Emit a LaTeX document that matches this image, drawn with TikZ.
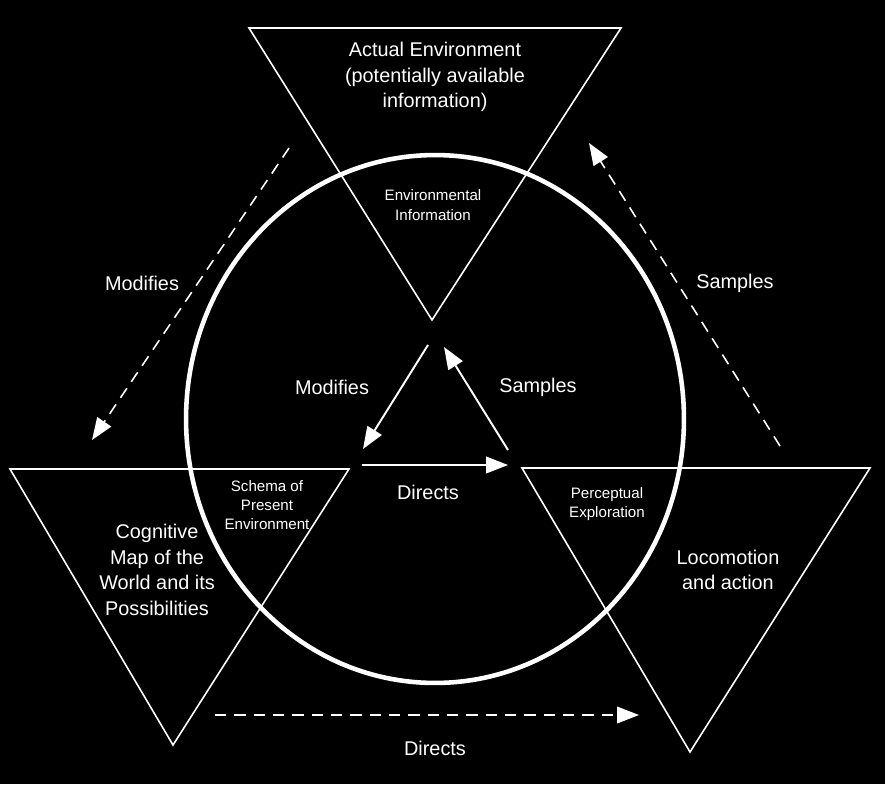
\documentclass[tikz,border=0pt]{standalone}
\usepackage{fontspec}
\setmainfont{Liberation Sans}
\usetikzlibrary{arrows.meta}
\tikzset{>={Triangle[length=12.5pt,width=9.5pt]}}
\tikzset{
  big/.style={text=white,align=center,inner sep=0pt,font=\fontsize{11.3}{14.5}\selectfont},
  small/.style={text=white,align=center,inner sep=0pt,font=\fontsize{8.6}{11}\selectfont},
  tri/.style={draw=white,line width=0.9pt},
  flow/.style={->,draw=white,line width=1.1pt},
  dflow/.style={->,draw=white,line width=0.9pt,dash pattern=on 6.5pt off 4.5pt}
}

\begin{document}
\begin{tikzpicture}[x=0.02cm,y=-0.02cm]
\fill[black] (0,0) rectangle (885,784);

% the three triangles
\draw[tri] (249,28) -- (621,28) -- (432,320) -- cycle;
\draw[tri] (10,469) -- (349,469) -- (173,745) -- cycle;
\draw[tri] (522,468) -- (870,468) -- (690,752) -- cycle;

% the cycle
\draw[white,line width=2.6pt] (435,419) ellipse [x radius=4.98cm,y radius=5.28cm];

% texts
\node[big] (env)  at (435,77)  {Actual Environment\\(potentially available\\information)};
\node[small] (info) at (433,205) {Environmental\\Information};
\node[big] (map)  at (157,570) {Cognitive\\Map of the\\World and its\\Possibilities};
\node[small] (schema) at (267,505) {Schema of\\Present\\Environment};
\node[small] (percept) at (607,504) {Perceptual\\Exploration};
\node[big] (loco) at (728,570) {Locomotion\\and action};

% inner arrows
\coordinate (im1) at (428,345);
\coordinate (im2) at (363,449);
\coordinate (is1) at (508,450);
\coordinate (is2) at (444,347);
\coordinate (id1) at (362,465);
\coordinate (id2) at (508,465);
\draw[flow] (im1) -- (im2);
\draw[flow] (is1) -- (is2);
\draw[flow] (id1) -- (id2);
\node[big] (imod) at (332,387) {Modifies};
\node[big] (isam) at (538,387) {Samples};
\node[big] (idir) at (428,492) {Directs};

% outer arrows
\coordinate (om1) at (289,148);
\coordinate (om2) at (92,440);
\coordinate (os1) at (780,446);
\coordinate (os2) at (589,143);
\coordinate (od1) at (215,715);
\coordinate (od2) at (639,715);
\draw[dflow] (om1) -- (om2);
\draw[dflow] (os1) -- (os2);
\draw[dflow] (od1) -- (od2);
\node[big] (omod) at (142,283) {Modifies};
\node[big] (osam) at (735,283) {Samples};
\node[big] (odir) at (435,748) {Directs};
\end{tikzpicture}
\end{document}
